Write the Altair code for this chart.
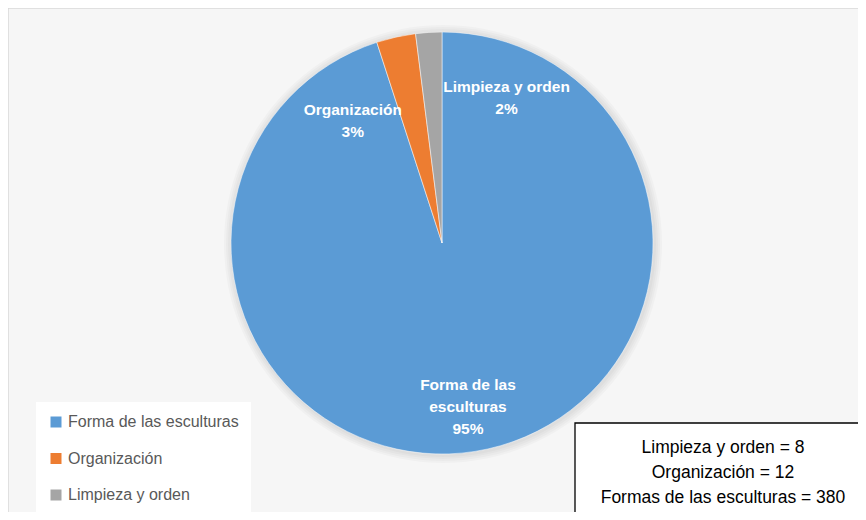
import altair as alt
import pandas as pd

# ---- data ----
categorias = ["Forma de las esculturas", "Organización", "Limpieza y orden"]
valores = [380, 12, 8]
etiquetas = ["Forma de las\nesculturas", "Organización", "Limpieza y orden"]
colores = ["#5B9BD5", "#ED7D31", "#A5A5A5"]
resumen = ["Limpieza y orden = 8", "Organización = 12", "Formas de las esculturas = 380"]

FONT = "Liberation Sans"
CX, CY, R = 434, 235, 211
W, H = 850, 504

total = sum(valores)
df = pd.DataFrame({
    "cat": categorias,
    "val": valores,
    "orden": list(range(len(categorias))),
    "label": [f"{e}\n{round(v / total * 100)}%" for e, v in zip(etiquetas, valores)],
})

one = pd.DataFrame({"a": [0]})

# frame (left and top edges; the rest runs past the page)
frame = [
    alt.Chart(one).mark_rule(color="#d9d9d9", strokeWidth=1.5).encode(
        x=alt.value(0), y=alt.value(0), y2=alt.value(H)),
    alt.Chart(one).mark_rule(color="#d9d9d9", strokeWidth=1.5).encode(
        x=alt.value(0), x2=alt.value(W), y=alt.value(0)),
]

# soft shadow around the pie
shadows = [
    alt.Chart(one).mark_arc(theta=0, theta2=6.2832, outerRadius=R + k, color="black", opacity=0.025)
    .encode(x=alt.value(CX + 1), y=alt.value(CY + 1))
    for k in (8, 6, 4, 2)
]

pie = alt.Chart(df).mark_arc(outerRadius=R, stroke="white", strokeWidth=0.5).encode(
    theta=alt.Theta("val:Q", stack=True),
    order=alt.Order("orden:Q"),
    x=alt.value(CX), y=alt.value(CY),
    color=alt.Color(
        "cat:N",
        scale=alt.Scale(domain=categorias, range=colores),
        sort=categorias,
        legend=alt.Legend(
            title=None, orient="none", legendX=28, legendY=394,
            symbolType="square", symbolSize=121, symbolStrokeWidth=0,
            labelFontSize=16, labelFont=FONT, labelColor="#595959", labelLimit=0,
            rowPadding=20.5, fillColor="white", padding=12, labelOffset=4,
        ),
    ),
)

lbl_base = alt.Chart(df).transform_window(
    cum="sum(val)", sort=[alt.SortField("orden")]
).transform_calculate(mid="datum.cum - datum.val / 2")

def lbl(cat, dx, dy):
    return lbl_base.transform_filter(alt.datum.cat == cat).mark_text(
        radius=166, font=FONT, fontSize=15.5, fontWeight="bold", color="white",
        lineBreak="\n", lineHeight=22, align="center", baseline="middle", dx=dx, dy=dy,
    ).encode(
        theta=alt.Theta("mid:Q", stack=None),
        x=alt.value(CX), y=alt.value(CY), text="label:N",
    )

labels = [
    lbl("Forma de las esculturas", 0, -22),
    lbl("Organización", -53, 29),
    lbl("Limpieza y orden", 75, 10),
]

box = alt.Chart(one).mark_rect(fill="white", stroke="black", strokeWidth=1.3).encode(
    x=alt.value(567), x2=alt.value(880), y=alt.value(415), y2=alt.value(509)
)
box_text = alt.Chart(pd.DataFrame({"t": ["\n".join(resumen)]})).mark_text(
    font=FONT, fontSize=17.5, color="black", lineBreak="\n", lineHeight=25,
    align="center", baseline="middle",
).encode(x=alt.value(715), y=alt.value(440), text="t:N")

chart = alt.layer(*frame, *shadows, pie, *labels, box, box_text).properties(
    width=W, height=H, autosize=alt.AutoSizeParams(type="none"), padding=0,
    background="#f6f6f6",
).configure_view(strokeWidth=0, fill="#f6f6f6")

chart.save("out.html", embed_options={"renderer": "svg", "actions": False})
